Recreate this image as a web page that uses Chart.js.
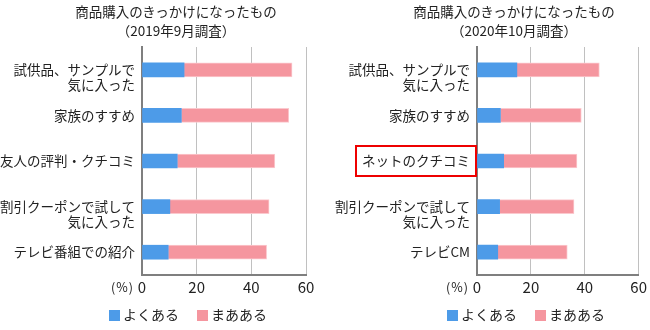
<!DOCTYPE html>
<html>
<head>
<meta charset="utf-8">
<script src="https://cdn.jsdelivr.net/npm/chart.js@4"></script>
<style>
  html, body { margin: 0; padding: 0; background: #fff; }
  body { width: 650px; height: 330px; position: relative; overflow: hidden;
         font-family: "Noto Sans CJK JP", "Noto Sans", sans-serif; color: #222; }
  .wrap { position: absolute; top: 0; width: 325px; height: 330px; }
  .title { position: absolute; top: 2px; width: 240px; text-align: center; font-size: 13.5px; line-height: 19px; }
  .legend { position: absolute; top: 305px; font-size: 14px; line-height: 18px; white-space: nowrap; }
  .legend span.sw { display: inline-block; width: 11px; height: 11px; vertical-align: -1px; margin-right: 3px; }
  .legend span.it { margin-right: 18px; }
  .pct { position: absolute; top: 278px; font-size: 12.5px; line-height: 18px; letter-spacing: 1px; }
</style>
</head>
<body>
<script>
// ---- data ----
const titles2019 = ["商品購入のきっかけになったもの", "（2019年9月調査）"];
const titles2020 = ["商品購入のきっかけになったもの", "（2020年10月調査）"];
const categories2019 = [["", "試供品、サンプルで", "気に入った"], "家族のすすめ", "友人の評判・クチコミ", ["", "割引クーポンで試して", "気に入った"], "テレビ番組での紹介"];
const categories2020 = [["", "試供品、サンプルで", "気に入った"], "家族のすすめ", "ネットのクチコミ", ["", "割引クーポンで試して", "気に入った"], "テレビCM"];
const often2019 = [15.4, 14.4, 12.9, 10.2, 9.6];
const some2019 = [39.5, 39.3, 35.7, 36.3, 36.0];
const often2020 = [14.8, 8.7, 9.9, 8.4, 7.7];
const some2020 = [30.6, 30.0, 27.2, 27.6, 25.8];
const seriesNames = ["よくある", "まあある"];
const xTicks = [0, 20, 40, 60];
const highlightIndex2020 = 2;

const BLUE = "#4d9be8";
const PINK = "#f5969f";

function makeChart(left, titleLines, titleCenter, cats, a, b, legendLeft, highlight) {
  const wrap = document.createElement("div");
  wrap.className = "wrap";
  wrap.style.left = left + "px";
  document.body.appendChild(wrap);

  const canvas = document.createElement("canvas");
  canvas.width = 325; canvas.height = 330;
  canvas.style.width = "325px"; canvas.style.height = "330px";
  wrap.appendChild(canvas);

  const t = document.createElement("div");
  t.className = "title";
  t.style.left = (titleCenter - 120) + "px";
  t.innerHTML = titleLines.join("<br>");
  wrap.appendChild(t);

  const lg = document.createElement("div");
  lg.className = "legend";
  lg.style.left = legendLeft + "px";
  lg.innerHTML = '<span class="sw" style="background:' + BLUE + '"></span><span class="it">' + seriesNames[0] +
                 '</span><span class="sw" style="background:' + PINK + '"></span><span>' + seriesNames[1] + '</span>';
  wrap.appendChild(lg);

  const axisLeft = left === 0 ? 142 : 152;
  const pct = document.createElement("div");
  pct.className = "pct";
  pct.style.left = (axisLeft - 31) + "px";
  pct.textContent = "(%)";
  wrap.appendChild(pct);

  const boxPlugin = {
    id: "box",
    afterDraw(chart) {
      if (highlight == null) return;
      const ctx = chart.ctx;
      const y = chart.scales.y.getPixelForValue(highlight);
      const right = chart.chartArea.left - 1;
      ctx.save();
      ctx.strokeStyle = "#ee0000";
      ctx.lineWidth = 2;
      ctx.strokeRect(right - 120, y - 15, 120, 30);
      ctx.restore();
    }
  };

  new Chart(canvas, {
    type: "bar",
    data: {
      labels: cats,
      datasets: [
        { label: seriesNames[0], data: a, backgroundColor: BLUE, borderWidth: 0, barThickness: 14 },
        { label: seriesNames[1], data: b, backgroundColor: PINK, borderColor: "#fbc9ce", borderWidth: {top:1,right:1,bottom:1,left:0}, barThickness: 14 }
      ]
    },
    options: {
      indexAxis: "y",
      responsive: false,
      animation: false,
      events: [],
      layout: { padding: { top: 47, bottom: 25, left: 0, right: left === 0 ? 19 : 9 } },
      plugins: { legend: { display: false }, title: { display: false }, tooltip: { enabled: false } },
      scales: {
        x: {
          stacked: true, min: 0, max: 60,
          afterBuildTicks(s) { s.ticks = xTicks.map(v => ({ value: v })); },
          afterFit(s) { s.height = 30; },
          grid: { color: "#c0c0c0", lineWidth: 1, drawTicks: false },
          border: { color: "#7f7f7f", width: 2 },
          ticks: { color: "#222", font: { family: "'Noto Sans CJK JP', 'Noto Sans', sans-serif", size: 15 }, padding: 3 }
        },
        y: {
          stacked: true,
          afterFit(s) { s.width = axisLeft; },
          grid: { display: false, drawTicks: false },
          border: { color: "#7f7f7f", width: 2 },
          ticks: { color: "#222", font: { family: "'Noto Sans CJK JP', 'Noto Sans', sans-serif", size: 13.5, lineHeight: 1.1 }, padding: 7, autoSkip: false }
        }
      }
    },
    plugins: [boxPlugin]
  });
}

makeChart(0, titles2019, 176, categories2019, often2019, some2019, 109, null);
makeChart(325, titles2020, 189, categories2020, often2020, some2020, 122, highlightIndex2020);
</script>
</body>
</html>
